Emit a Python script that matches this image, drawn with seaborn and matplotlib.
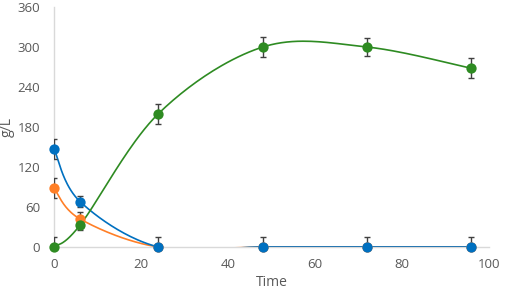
import matplotlib
matplotlib.use("Agg")
import matplotlib.pyplot as plt
import numpy as np
import pandas as pd
import seaborn as sns

# data
time = [0, 6, 24, 48, 72, 96]
blue_vals = [147, 68, 0, 0, 0, 0]
blue_err = [15, 8, 15, 15, 15, 15]
orange_vals = [88, 42, 0, 0, 0, 0]
orange_err = [15, 10, 0, 0, 0, 0]
green_vals = [0, 33, 200, 300, 300, 268]
green_err = [15, 8, 15, 15, 13, 15]

colors = {"blue": "#0070C0", "orange": "#FF7F27", "green": "#2E8B22"}


def smooth(x, y, n=40):
    # catmull-rom style curve through the points (like excel smoothed lines)
    x = np.asarray(x, float)
    y = np.asarray(y, float)
    px = np.concatenate([[x[0]], x, [x[-1]]])
    py = np.concatenate([[y[0]], y, [y[-1]]])
    xs, ys = [], []
    for i in range(1, len(px) - 2):
        p0, p1, p2, p3 = (np.array([px[j], py[j]]) for j in (i - 1, i, i + 1, i + 2))
        c1 = p1 + (p2 - p0) / 6
        c2 = p2 - (p3 - p1) / 6
        t = np.linspace(0, 1, n)[:, None]
        pts = ((1 - t) ** 3) * p1 + 3 * ((1 - t) ** 2) * t * c1 + 3 * (1 - t) * t ** 2 * c2 + t ** 3 * p2
        xs.extend(pts[:, 0])
        ys.extend(pts[:, 1])
    return np.array(xs), np.array(ys)


sns.set_style("white")
plt.rcParams["font.family"] = ["Open Sans", "DejaVu Sans"]

fig = plt.figure(figsize=(5.05, 2.93), dpi=100)
ax = fig.add_axes([0.107, 0.157, 0.861, 0.819])

series = [
    ("orange", orange_vals, orange_err),
    ("blue", blue_vals, blue_err),
    ("green", green_vals, green_err),
]
for z, (name, vals, err) in enumerate(series):
    sx, sy = smooth(time, vals)
    sns.lineplot(x=sx, y=sy, ax=ax, color=colors[name], linewidth=1.2,
                 sort=False, estimator=None, zorder=2 + z)
    shown = [e if e > 0 else np.nan for e in err]
    ax.errorbar(time, vals, yerr=shown, fmt="none", ecolor="#404040",
                elinewidth=1.0, capsize=2.5, capthick=1.0, zorder=5 + z)
    df = pd.DataFrame({"t": time, "v": vals})
    sns.scatterplot(data=df, x="t", y="v", ax=ax, color=colors[name], s=55,
                    edgecolor=colors[name], linewidth=0, zorder=8 + z, clip_on=False)

ax.set_xlim(0, 100)
ax.set_ylim(0, 360)
ax.set_xticks(range(0, 101, 20))
ax.set_yticks(range(0, 361, 60))
for s in ["top", "right"]:
    ax.spines[s].set_visible(False)
for s in ["left", "bottom"]:
    ax.spines[s].set_color("#D9D9D9")
    ax.spines[s].set_linewidth(1.0)
ax.tick_params(axis="y", length=0, labelsize=9.5, labelcolor="#595959", pad=10)
ax.tick_params(axis="x", length=0, labelsize=9.5, labelcolor="#595959", pad=8)
ax.set_xlabel("Time", fontsize=10, color="#595959", labelpad=3)
ax.set_ylabel("g/L", fontsize=10, color="#595959")
ax.yaxis.set_label_coords(-0.09, 0.5)

fig.savefig("out.png", dpi=100)
